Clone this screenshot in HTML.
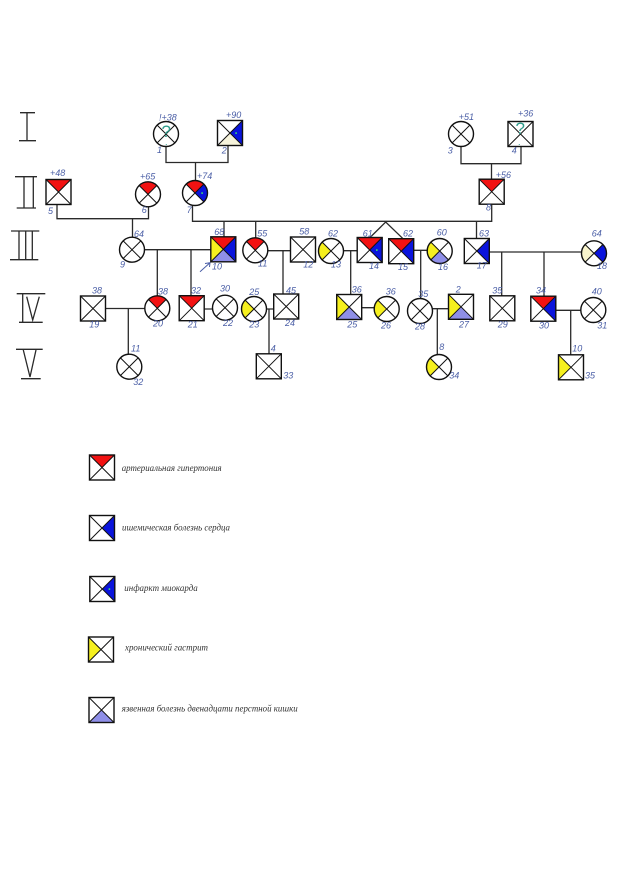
<!DOCTYPE html>
<html lang="ru">
<head>
<meta charset="utf-8">
<title>Родословная</title>
<style>
html,body{margin:0;padding:0;background:#fff}
svg{display:block}
.l{stroke:#2a2a2a;stroke-width:1.3;fill:none}
.n{font:italic 9px "Liberation Sans","DejaVu Sans",sans-serif;fill:#4a5ea6}
.g{font:italic 9px "Liberation Serif","DejaVu Serif",serif;fill:#333}
.q{font:17px "Liberation Sans",sans-serif;fill:#2f9c8c}
.o{stroke:#111;stroke-width:1.4;fill:none}
.x{stroke:#111;stroke-width:1;fill:none}
</style>
</head>
<body>
<svg xmlns="http://www.w3.org/2000/svg" width="624" height="879" viewBox="0 0 624 879">
<defs>
<path id="sT" d="M-12.5-12.5H12.5L0 0Z" fill="#f21212"/>
<path id="sR" d="M12.5-12.5V12.5L0 0Z" fill="#0a14dc"/>
<path id="sB" d="M-12.5 12.5H12.5L0 0Z" fill="#8f8fe8"/>
<path id="sL" d="M-12.5-12.5V12.5L0 0Z" fill="#f6f01e"/>
<path id="cT" d="M-8.84-8.84A12.5 12.5 0 0 1 8.84-8.84L0 0Z" fill="#f21212"/>
<path id="cR" d="M8.84-8.84A12.5 12.5 0 0 1 8.84 8.84L0 0Z" fill="#0a14dc"/>
<path id="cB" d="M-8.84 8.84A12.5 12.5 0 0 0 8.84 8.84L0 0Z" fill="#8f8fe8"/>
<path id="cL" d="M-8.84-8.84A12.5 12.5 0 0 0-8.84 8.84L0 0Z" fill="#f6f01e"/>
<g id="S"><rect class="o" x="-12.5" y="-12.5" width="25" height="25"/><path class="x" d="M-12.5-12.5L12.5 12.5M12.5-12.5L-12.5 12.5"/></g>
<g id="C"><circle class="o" r="12.5"/><path class="x" d="M-8.84-8.84L8.84 8.84M8.84-8.84L-8.84 8.84"/></g>
<rect id="d" x="-.7" y="-.7" width="1.6" height="1.6" fill="#3fe06a"/>
</defs>
<rect width="624" height="879" fill="#fff"/>

<!-- generation numerals -->
<g class="l">
<path d="M20 112.7H35M27 112.7V140.7M19 140.7H36"/>
<path d="M15 176.7H37M16.7 208H36M24 176.7V208M33.3 176.7V208"/>
<path d="M11 231H39.3M10 259.7H38.3M19 231V259.7M25.7 231V259.7M32.3 231V259.7"/>
<path d="M16.7 293.7H45.3M19 322.3H42.7M22.7 294V322M26.7 296.7L32.7 320L39.3 296.7"/>
<path d="M16 349.3H42.7M21 378.7H40.7M23.3 350L30 377L36 350"/>
</g>

<!-- connectors -->
<g class="l">
<path d="M166 146.5V162.5H228V146M195.5 162.5V180.5"/>
<path d="M461 146.5V163.7H521V147M491.5 163.7V178.7"/>
<path d="M57 204.7V218.7H148.5V207M132.5 218.7V237.2"/>
<path d="M192.5 205.5V221.3H491.7V204.7M224 221.3V237M255.7 221.3V238M476.5 221.5V238.3"/>
<path d="M370 237.5L385.7 222L403 238.7"/>
<path d="M144.5 249.7H211M157.3 249.7V295.8M191 249.7V296"/>
<path d="M267.8 250.7H290.7M283 250.7V294"/>
<path d="M105.7 308.5H145M128.3 308.5V354.2"/>
<path d="M204 309H212.5M266.5 309H273.7M269 309V353.7"/>
<path d="M343.5 250.7H357.3M350.7 250.7V294.3M361.7 307.7H374.2"/>
<path d="M413.7 250.3H427.2M420.7 250.3V298.5M432.5 308.7H448.3M437.3 308.7V354.5"/>
<path d="M489.5 252H581.5M501.7 252V295.7M544 252V295.7"/>
<path d="M556 310.3H581M570.7 310.3V354.7"/>
</g>
<path d="M200 271.7L210 262.7M205 263.5L210 262.7L209.5 267" fill="none" stroke="#4a5ea6" stroke-width="1"/>

<!-- generation I, II -->
<g transform="translate(166 134)"><use href="#C"/></g>
<g transform="translate(230 133)"><path d="M-12.5 12.5H12.5L0 0Z" fill="#f7f4dc"/><use href="#sR"/><use href="#d" x="6"/><use href="#S"/></g>
<g transform="translate(461 134)"><use href="#C"/></g>
<g transform="translate(520.5 134)"><use href="#S"/></g>
<g transform="translate(58.5 192)"><use href="#sT"/><use href="#S"/></g>
<g transform="translate(148 194.3)"><use href="#cT"/><use href="#C"/></g>
<g transform="translate(195 193)"><use href="#cT"/><use href="#cR"/><use href="#d" x="7"/><use href="#C"/></g>
<g transform="translate(491.7 191.7)"><use href="#sT"/><use href="#S"/></g>
<text class="q" x="161.5" y="137">?</text><text class="q" x="165" y="145" style="font-size:9px">.</text>
<text class="q" x="515.5" y="134">?</text><text class="q" x="518" y="145" style="font-size:9px">.</text>

<!-- generation III -->
<g transform="translate(132 249.7)"><use href="#C"/></g>
<g transform="translate(223.3 249.3)"><use href="#sT"/><use href="#sR"/><use href="#sB"/><use href="#sL"/><use href="#S"/></g>
<g transform="translate(255.3 250.3)"><use href="#cT"/><use href="#C"/></g>
<g transform="translate(303 249.5)"><use href="#S"/></g>
<g transform="translate(331 251)"><use href="#cL"/><use href="#C"/></g>
<g transform="translate(369.7 250)"><use href="#sT"/><use href="#sR"/><use href="#d" x="7"/><use href="#S"/></g>
<g transform="translate(401.2 251.2)"><use href="#sT"/><use href="#sR"/><use href="#S"/></g>
<g transform="translate(439.7 251)"><use href="#cL"/><use href="#cB"/><use href="#C"/></g>
<g transform="translate(476.8 251)"><use href="#sR"/><use href="#S"/></g>
<g transform="translate(594 253.3)"><path d="M-8.84-8.84A12.5 12.5 0 0 0-8.84 8.84L0 0Z" fill="#f8f4cc"/><use href="#cR"/><use href="#C"/></g>

<!-- generation IV -->
<g transform="translate(93 308.5)"><use href="#S"/></g>
<g transform="translate(157.3 308.3)"><use href="#cT"/><use href="#C"/></g>
<g transform="translate(191.7 308.2)"><use href="#sT"/><use href="#S"/></g>
<g transform="translate(225 307.7)"><use href="#C"/></g>
<g transform="translate(254 309)"><use href="#cL"/><use href="#C"/></g>
<g transform="translate(286.2 306.5)"><use href="#S"/></g>
<g transform="translate(349.2 307)"><use href="#sL"/><use href="#sB"/><use href="#S"/></g>
<g transform="translate(386.7 309)"><use href="#cL"/><use href="#C"/></g>
<g transform="translate(420 311)"><use href="#C"/></g>
<g transform="translate(461 306.8)"><use href="#sL"/><use href="#sB"/><use href="#S"/></g>
<g transform="translate(502.3 308.3)"><use href="#S"/></g>
<g transform="translate(543.3 308.7)"><use href="#sT"/><use href="#sR"/><use href="#S"/></g>
<g transform="translate(593.3 310)"><use href="#C"/></g>

<!-- generation V -->
<g transform="translate(129.3 366.7)"><use href="#C"/></g>
<g transform="translate(268.8 366.3)"><use href="#S"/></g>
<g transform="translate(439 367)"><use href="#cL"/><use href="#C"/></g>
<g transform="translate(571 367.3)"><use href="#sL"/><use href="#S"/></g>

<!-- legend -->
<g transform="translate(102 467.5)"><use href="#sT"/><use href="#S"/></g>
<g transform="translate(102 528)"><use href="#sR"/><use href="#S"/></g>
<g transform="translate(102.3 589)"><use href="#sR"/><use href="#d" x="7"/><use href="#S"/></g>
<g transform="translate(101 649.5)"><use href="#sL"/><use href="#S"/></g>
<g transform="translate(101.5 710)"><use href="#sB"/><use href="#S"/></g>
<text class="g" x="121.7" y="471" textLength="100" lengthAdjust="spacingAndGlyphs">артериальная гипертония</text>
<text class="g" x="122" y="530.7" textLength="108" lengthAdjust="spacingAndGlyphs">ишемическая болезнь сердца</text>
<text class="g" x="124.3" y="591" textLength="73.4" lengthAdjust="spacingAndGlyphs">инфаркт миокарда</text>
<text class="g" x="125" y="650.7" textLength="83" lengthAdjust="spacingAndGlyphs">хронический гастрит</text>
<text class="g" x="121.7" y="711.7" textLength="176" lengthAdjust="spacingAndGlyphs">язвенная болезнь двенадцати перстной кишки</text>

<!-- handwritten labels -->
<text class="n" x="159" y="120.7">!+38</text>
<text class="n" x="226" y="118">+90</text>
<text class="n" x="458.7" y="120">+51</text>
<text class="n" x="518" y="116.7">+36</text>
<text class="n" x="157" y="153">1</text>
<text class="n" x="221.7" y="153.3">2</text>
<text class="n" x="447.7" y="153.3">3</text>
<text class="n" x="511.7" y="153.7">4</text>
<text class="n" x="50" y="176">+48</text>
<text class="n" x="140" y="179.3">+65</text>
<text class="n" x="197" y="179">+74</text>
<text class="n" x="495.7" y="178">+56</text>
<text class="n" x="48" y="214">5</text>
<text class="n" x="141.7" y="213">6</text>
<text class="n" x="186.7" y="213">7</text>
<text class="n" x="486" y="210.7">8</text>
<text class="n" x="134" y="237">64</text>
<text class="n" x="214.3" y="235">68</text>
<text class="n" x="257.3" y="236.7">55</text>
<text class="n" x="299.3" y="234.3">58</text>
<text class="n" x="328" y="236.7">62</text>
<text class="n" x="362.7" y="236.7">61</text>
<text class="n" x="403" y="236.7">62</text>
<text class="n" x="436.7" y="235.7">60</text>
<text class="n" x="479" y="236.7">63</text>
<text class="n" x="591.7" y="236.7">64</text>
<text class="n" x="120" y="267.7">9</text>
<text class="n" x="212" y="269.3">10</text>
<text class="n" x="258" y="266.7">11</text>
<text class="n" x="303.3" y="267.3">12</text>
<text class="n" x="331" y="267.3">13</text>
<text class="n" x="369" y="269">14</text>
<text class="n" x="398" y="270">15</text>
<text class="n" x="438" y="270">16</text>
<text class="n" x="476.7" y="268.3">17</text>
<text class="n" x="597" y="269">18</text>
<text class="n" x="92" y="293.3">38</text>
<text class="n" x="158" y="294.3">38</text>
<text class="n" x="191" y="293.3">32</text>
<text class="n" x="220" y="291.7">30</text>
<text class="n" x="249.3" y="295">25</text>
<text class="n" x="286" y="293.3">45</text>
<text class="n" x="351.7" y="292.3">36</text>
<text class="n" x="385.7" y="294.3">36</text>
<text class="n" x="418.3" y="297">35</text>
<text class="n" x="455.7" y="292.7">2</text>
<text class="n" x="492.3" y="293.3">35</text>
<text class="n" x="536" y="293.3">34</text>
<text class="n" x="591.7" y="294.3">40</text>
<text class="n" x="89.3" y="327.3">19</text>
<text class="n" x="153" y="326.7">20</text>
<text class="n" x="187.7" y="327.3">21</text>
<text class="n" x="223" y="326">22</text>
<text class="n" x="249.3" y="327.7">23</text>
<text class="n" x="285" y="326">24</text>
<text class="n" x="347.3" y="327.7">25</text>
<text class="n" x="381" y="328.3">26</text>
<text class="n" x="415" y="329.7">28</text>
<text class="n" x="459" y="327.3">27</text>
<text class="n" x="497.7" y="327.7">29</text>
<text class="n" x="539" y="328.3">30</text>
<text class="n" x="597.3" y="328.3">31</text>
<text class="n" x="131" y="351.7">11</text>
<text class="n" x="270.7" y="351.7">4</text>
<text class="n" x="439.3" y="350">8</text>
<text class="n" x="572.3" y="351.7">10</text>
<text class="n" x="133.3" y="385">32</text>
<text class="n" x="283.3" y="378.3">33</text>
<text class="n" x="449.3" y="378.3">34</text>
<text class="n" x="585" y="378.3">35</text>
</svg>
</body>
</html>
